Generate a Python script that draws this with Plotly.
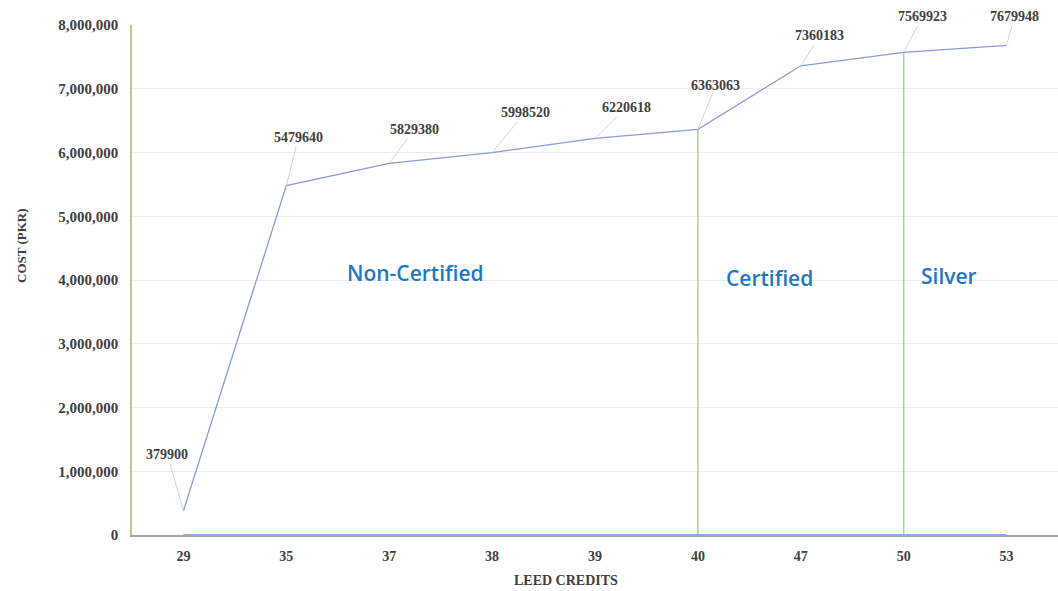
import plotly.graph_objects as go

# LEED credit levels and the cumulative cost at each level
credits = ["29", "35", "37", "38", "39", "40", "47", "50", "53"]
cost = [379900, 5479640, 5829380, 5998520, 6220618, 6363063, 7360183, 7569923, 7679948]

# certification thresholds marked with drop lines
thresholds = ["40", "50"]

# zone labels: (text, category, value, pixel shift)
zones = [("Non-Certified", "37", 4110000, 26),
         ("Certified", "40", 4030000, 72),
         ("Silver", "50", 4060000, 45)]

# label offsets (px) for each data label
label_dx = [-16, 12, 25, 33, 31, 18, 19, 19, 8]
label_dy = [-56, -48, -34, -40, -31, -44, -30, -36, -29]

serif = "Liberation Serif"
txt_col = "#404040"

W, H = 1058, 591
L, R, T, B = 132, 0, 25, 56
pw, ph = W - L - R, H - T - B

fig = go.Figure()

# drop lines at the certification thresholds
for c in thresholds:
    v = cost[credits.index(c)]
    fig.add_trace(go.Scatter(x=[c, c], y=[0, v], mode="lines",
                             line=dict(color="#a9d18e", width=1.5),
                             hoverinfo="skip", showlegend=False))

# baseline along the credit range
fig.add_shape(type="line", xref="x", yref="y", x0=0, x1=len(credits) - 1, y0=0, y1=0,
              line=dict(color="#5b9bd5", width=1.5), layer="above")

fig.add_trace(go.Scatter(x=credits, y=cost, mode="lines",
                         line=dict(color="#8a9bd8", width=1.3),
                         showlegend=False))

for i, (v, dx, dy) in enumerate(zip(cost, label_dx, label_dy)):
    fig.add_annotation(x=i, y=v, text=str(v), showarrow=True, arrowhead=0,
                       arrowwidth=0.8, arrowcolor="#c8c8c8", ax=dx, ay=dy,
                       standoff=0, startstandoff=0,
                       font=dict(family=serif, size=14, color=txt_col, weight="bold"))

for t, c, v, sh in zones:
    fig.add_annotation(x=credits.index(c), y=v, text=t, showarrow=False,
                       xanchor="center", yanchor="middle", xshift=sh,
                       font=dict(family="Open Sans", size=21, color="#1f77c4", weight=600))

# axis titles
fig.add_annotation(xref="paper", yref="paper", x=(566 - L) / pw, y=-(580 - T - ph) / ph,
                   text="LEED CREDITS", showarrow=False, yanchor="middle", xanchor="center",
                   font=dict(family=serif, size=14, color=txt_col, weight="bold"))
fig.add_annotation(xref="paper", yref="paper", x=-(L - 21) / pw, y=1 - (246 - T) / ph,
                   text="COST (PKR)", textangle=-90, showarrow=False,
                   yanchor="middle", xanchor="center",
                   font=dict(family=serif, size=13, color=txt_col, weight="bold"))

fig.update_layout(
    width=W, height=H,
    margin=dict(l=L, r=R, t=T, b=B),
    plot_bgcolor="white", paper_bgcolor="white",
    xaxis=dict(type="category", categoryorder="array", categoryarray=credits,
               range=[-0.5, len(credits) - 0.5],
               showline=True, linecolor="#a6a6a6", linewidth=1.5,
               showgrid=False, ticks="", ticklabelstandoff=7,
               tickfont=dict(family=serif, size=14, color=txt_col, weight="bold")),
    yaxis=dict(range=[0, 8000000], dtick=1000000, tickformat=",d",
               showline=True, linecolor="#a9d18e", linewidth=1.5,
               gridcolor="#ececec", gridwidth=1, zeroline=False, ticks="",
               ticklabelstandoff=9,
               tickfont=dict(family=serif, size=15, color=txt_col, weight="bold")),
)

fig.write_html("out.html")
